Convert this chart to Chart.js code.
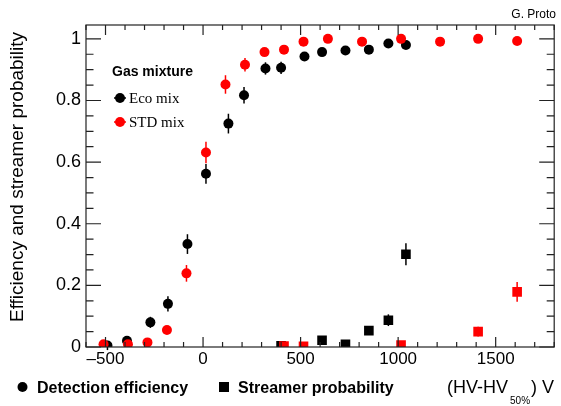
<!DOCTYPE html>
<html>
<head>
<meta charset="utf-8">
<script src="https://cdn.jsdelivr.net/npm/chart.js@4"></script>
<style>
  html, body { margin: 0; padding: 0; background: #fff; }
  #wrap { position: relative; width: 561px; height: 406px; }
</style>
</head>
<body>
<div id="wrap"><canvas id="eff"></canvas></div>
<script>
// HV - HV50% (V) and measured values per gas mixture
const ecoHV = [-490, -390, -270, -180, -80, 15, 130, 210, 320, 400, 520, 610, 730, 850, 950, 1040];
const ecoEff = [0.005, 0.02, 0.08, 0.14, 0.334, 0.562, 0.725, 0.817, 0.904, 0.906, 0.943, 0.957, 0.962, 0.965, 0.985, 0.98];
const ecoEffErr = [0.015, 0.012, 0.018, 0.025, 0.032, 0.032, 0.032, 0.027, 0.02, 0.02, 0.012, 0.008, 0.008, 0.008, 0.006, 0.006];

const ecoStrHV = [400, 610, 730, 850, 950, 1040];
const ecoStr = [0.004, 0.022, 0.009, 0.053, 0.087, 0.301];
const ecoStrErr = [0.003, 0.006, 0.005, 0.01, 0.019, 0.036];

const stdHV = [-510, -385, -285, -185, -85, 15, 115, 215, 315, 415, 515, 640, 815, 1015, 1215, 1410, 1610];
const stdEff = [0.009, 0.009, 0.015, 0.055, 0.239, 0.631, 0.852, 0.916, 0.957, 0.965, 0.991, 1.0, 0.991, 1.0, 0.991, 1.0, 0.993];
const stdEffErr = [0.006, 0.006, 0.006, 0.008, 0.027, 0.035, 0.03, 0.022, 0.012, 0.01, 0.006, 0.004, 0.004, 0.004, 0.004, 0.004, 0.004];

const stdStrHV = [415, 515, 1015, 1410, 1610];
const stdStr = [0.003, 0.002, 0.006, 0.05, 0.179];
const stdStrErr = [0.002, 0.002, 0.003, 0.016, 0.032];

const xTicks = [-500, 0, 500, 1000, 1500];
const yTicks = [0, 0.2, 0.4, 0.6, 0.8, 1];
const xMinorStep = 100;
const yMinorStep = 0.05;

const RED = '#ff0000';
const BLACK = '#000000';

const pts = (xs, ys) => xs.map((x, i) => ({ x: x, y: ys[i] }));

const series = [
  { data: pts(stdHV, stdEff), err: stdEffErr, color: RED, style: 'circle', radius: 5, order: 0 },
  { data: pts(stdStrHV, stdStr), err: stdStrErr, color: RED, style: 'rect', radius: 6.8, order: 0 },
  { data: pts(ecoHV, ecoEff), err: ecoEffErr, color: BLACK, style: 'circle', radius: 5, order: 1 },
  { data: pts(ecoStrHV, ecoStr), err: ecoStrErr, color: BLACK, style: 'rect', radius: 6.8, order: 1 }
];

// vertical error bars under the markers
const errorBars = {
  id: 'errorBars',
  beforeDatasetsDraw(chart) {
    const ctx = chart.ctx;
    const xs = chart.scales.x, ys = chart.scales.y;
    ctx.save();
    series.slice().reverse().forEach(s => {
      ctx.strokeStyle = s.color;
      ctx.lineWidth = 1.5;
      s.data.forEach((p, i) => {
        const px = xs.getPixelForValue(p.x);
        ctx.beginPath();
        ctx.moveTo(px, ys.getPixelForValue(p.y - s.err[i]));
        ctx.lineTo(px, ys.getPixelForValue(p.y + s.err[i]));
        ctx.stroke();
      });
    });
    ctx.restore();
  }
};

// ROOT style frame with inward ticks on all four sides
const frame = {
  id: 'frame',
  afterDraw(chart) {
    const ctx = chart.ctx;
    const a = chart.chartArea;
    const xs = chart.scales.x, ys = chart.scales.y;
    ctx.save();
    ctx.strokeStyle = '#222';
    ctx.lineWidth = 1.2;
    ctx.strokeRect(a.left, a.top, a.right - a.left, a.bottom - a.top);
    ctx.beginPath();
    for (let v = Math.ceil(xs.min / xMinorStep) * xMinorStep; v <= xs.max; v += xMinorStep) {
      const len = xTicks.includes(v) ? 10 : 5;
      const px = xs.getPixelForValue(v);
      ctx.moveTo(px, a.bottom); ctx.lineTo(px, a.bottom - len);
      ctx.moveTo(px, a.top); ctx.lineTo(px, a.top + len);
    }
    for (let k = 0; k * yMinorStep <= ys.max + 1e-9; k++) {
      const v = +(k * yMinorStep).toFixed(2);
      const len = yTicks.includes(v) ? 15 : 7.5;
      const py = ys.getPixelForValue(v);
      ctx.moveTo(a.left, py); ctx.lineTo(a.left + len, py);
      ctx.moveTo(a.right, py); ctx.lineTo(a.right - len, py);
    }
    ctx.stroke();

    ctx.fillStyle = '#000';
    // y axis title
    ctx.save();
    ctx.translate(18, 177);
    ctx.rotate(-Math.PI / 2);
    ctx.font = '19px "Liberation Sans", Arial, sans-serif';
    ctx.textAlign = 'center';
    ctx.textBaseline = 'middle';
    ctx.fillText('Efficiency and streamer probability', 0, 0);
    ctx.restore();

    ctx.textBaseline = 'alphabetic';
    ctx.textAlign = 'right';
    ctx.font = '12px "Liberation Sans", Arial, sans-serif';
    ctx.fillText('G. Proto', 556, 18);

    // gas mixture legend
    ctx.textAlign = 'left';
    ctx.font = 'bold 14px "Liberation Sans", Arial, sans-serif';
    ctx.fillText('Gas mixture', 112, 76);
    ctx.font = '15px "Liberation Serif", "Times New Roman", serif';
    ctx.textBaseline = 'middle';
    [['Eco mix', BLACK, 98], ['STD mix', RED, 122]].forEach(([name, col, y]) => {
      ctx.strokeStyle = col;
      ctx.lineWidth = 1.5;
      ctx.beginPath();
      ctx.moveTo(114, y); ctx.lineTo(126, y);
      ctx.stroke();
      ctx.fillStyle = col;
      ctx.beginPath();
      ctx.arc(120, y, 5, 0, Math.PI * 2);
      ctx.fill();
      ctx.fillStyle = '#000';
      ctx.fillText(name, 129, y + 1);
    });

    // marker legend and x axis title
    ctx.textBaseline = 'alphabetic';
    ctx.beginPath();
    ctx.arc(22.5, 387, 5, 0, Math.PI * 2);
    ctx.fill();
    ctx.fillRect(219, 382, 10, 10);
    ctx.font = 'bold 16px "Liberation Sans", Arial, sans-serif';
    ctx.fillText('Detection efficiency', 37, 393);
    ctx.fillText('Streamer probability', 238, 393);
    ctx.font = '18px "Liberation Sans", Arial, sans-serif';
    ctx.fillText('(HV-HV', 447, 393);
    let w = ctx.measureText('(HV-HV').width;
    ctx.font = '10px "Liberation Sans", Arial, sans-serif';
    ctx.fillText('50%', 447 + w + 2, 404);
    const w2 = ctx.measureText('50%').width;
    ctx.font = '18px "Liberation Sans", Arial, sans-serif';
    ctx.fillText(') V', 447 + w + w2 + 3, 393);
    ctx.restore();
  }
};

new Chart(document.getElementById('eff'), {
  type: 'scatter',
  data: {
    datasets: series.map(s => ({
      data: s.data,
      pointStyle: s.style,
      pointRadius: s.radius,
      pointHoverRadius: s.radius,
      backgroundColor: s.color,
      borderColor: s.color,
      borderWidth: 0,
      order: s.order
    }))
  },
  options: {
    responsive: true,
    maintainAspectRatio: false,
    animation: false,
    events: [],
    layout: { padding: { top: 25, right: 1, left: 0, bottom: 0 } },
    plugins: { legend: { display: false }, title: { display: false }, tooltip: { enabled: false } },
    scales: {
      x: {
        type: 'linear',
        min: -600,
        max: 1800,
        grid: { display: false, drawTicks: false },
        border: { display: false },
        afterBuildTicks: s => { s.ticks = xTicks.map(v => ({ value: v })); },
        afterFit: s => { s.height = 59; },
        ticks: {
          padding: 2,
          color: '#000',
          maxRotation: 0,
          font: { family: '"Liberation Sans", Arial, sans-serif', size: 17 },
          callback: v => (v < 0 ? '\u2013' + Math.abs(v) : String(v))
        }
      },
      y: {
        type: 'linear',
        min: 0,
        max: 1.045,
        grid: { display: false, drawTicks: false },
        border: { display: false },
        afterBuildTicks: s => { s.ticks = yTicks.map(v => ({ value: v })); },
        afterFit: s => { s.width = 86; },
        ticks: {
          padding: 5,
          color: '#000',
          font: { family: '"Liberation Sans", Arial, sans-serif', size: 18 },
          callback: v => String(v)
        }
      }
    }
  },
  plugins: [errorBars, frame]
});
</script>
</body>
</html>
